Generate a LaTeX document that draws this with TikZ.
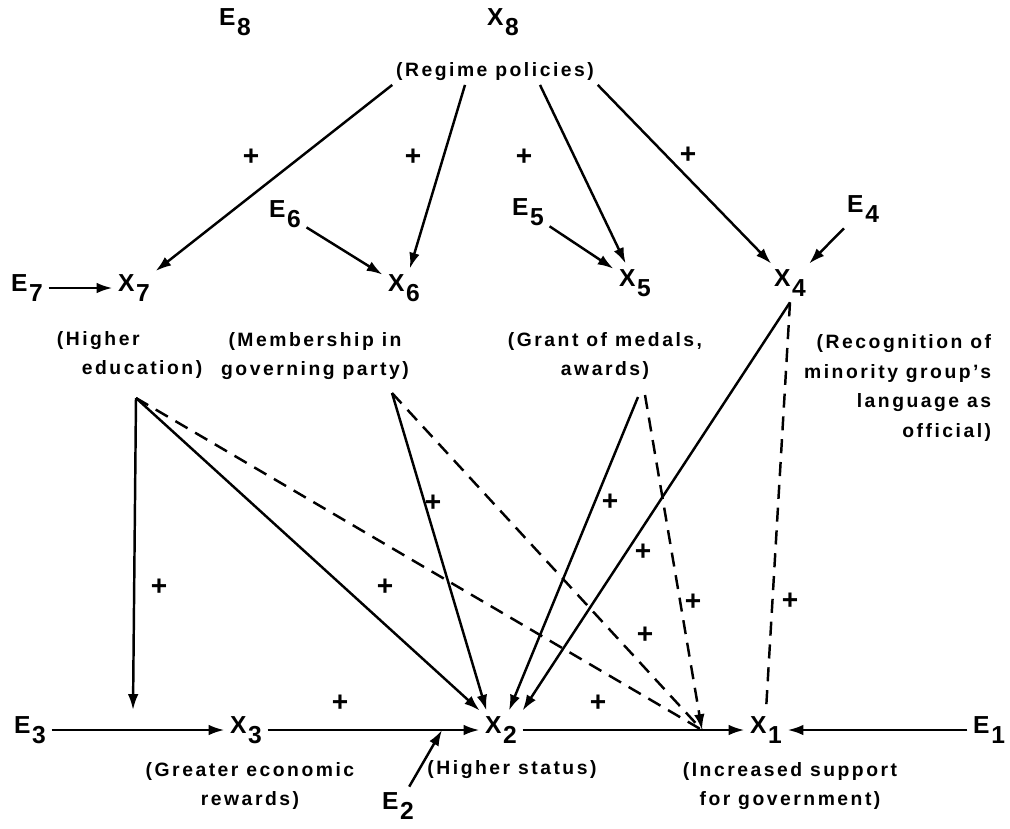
\documentclass[tikz,border=0pt]{standalone}
\usepackage{fontspec}
\setmainfont{Liberation Sans}[LetterSpace=13]
\usetikzlibrary{arrows.meta}
\tikzstyle{varnode}=[inner sep=3pt, font=\fontsize{14}{16}\selectfont\bfseries]
\tikzstyle{desc}=[inner sep=2pt, font=\fontsize{11}{17}\selectfont\bfseries]
\tikzstyle{plussign}=[inner sep=0pt, font=\fontsize{16}{16}\selectfont\bfseries]
\tikzstyle{link}=[-{Latex[length=9pt,width=6pt]}, line width=1.4pt]
\tikzstyle{dashlink}=[line width=1.4pt, dash pattern=on 8pt off 5pt]
\newcommand{\variable}[4]{
	\node[varnode] (#1) at (#2) {#3\kern1pt\raisebox{-6pt}{#4}};}
\newcommand{\plussign}[2]{
	\node[plussign] (#1) at (#2) {+};}

\begin{document}
\begin{tikzpicture}
	\useasboundingbox (0,0) rectangle (20.2,-16.56);

	% top: regime policies
	\variable{e8}{4.70,-0.44}{E}{8}
	\variable{x8}{10.06,-0.44}{X}{8}
	\node[desc] (regime) at (9.90,-1.44) {(Regime policies)};

	% middle row
	\variable{e6}{5.70,-4.28}{E}{6}
	\variable{e5}{10.56,-4.24}{E}{5}
	\variable{e4}{17.26,-4.18}{E}{4}
	\variable{e7}{0.54,-5.76}{E}{7}
	\variable{x7}{2.68,-5.76}{X}{7}
	\variable{x6}{8.08,-5.76}{X}{6}
	\variable{x5}{12.70,-5.66}{X}{5}
	\variable{x4}{15.80,-5.66}{X}{4}

	\node[desc, align=left, anchor=west] (hedu) at (1.06,-7.10) {(Higher\\\hspace*{0.5cm}education)};
	\node[desc, align=center] (memb) at (6.30,-7.12) {(Membership in\\governing party)};
	\node[desc, align=center] (grant) at (12.10,-7.12) {(Grant of medals,\\awards)};
	\node[desc, align=right, anchor=east] (recog) at (19.90,-7.76) {(Recognition of\\minority group's\\language as\\official)};

	% bottom row
	\variable{e3}{0.60,-14.60}{E}{3}
	\variable{x3}{4.92,-14.60}{X}{3}
	\variable{x2}{10.02,-14.60}{X}{2}
	\variable{x1}{15.32,-14.60}{X}{1}
	\variable{e1}{19.78,-14.60}{E}{1}
	\variable{e2}{7.96,-16.12}{E}{2}

	\node[desc, align=center] (rewards) at (5.00,-15.72) {(Greater economic\\rewards)};
	\node[desc] (status) at (10.24,-15.40) {(Higher status)};
	\node[desc, align=center] (support) at (15.80,-15.72) {(Increased support\\for government)};

	% points where lines leave or meet
	\coordinate (edu-out) at (2.72,-7.96);
	\coordinate (edu-in) at (2.66,-14.20);
	\coordinate (memb-out) at (7.84,-7.86);
	\coordinate (grant-out) at (12.76,-7.94);
	\coordinate (grant-dash) at (12.90,-7.90);
	\coordinate (meet) at (14.04,-14.60);
	\coordinate (e2-in) at (8.84,-14.60);

	% plus signs
	\plussign{p1}{5.02,-3.14}
	\plussign{p2}{8.26,-3.14}
	\plussign{p3}{10.48,-3.14}
	\plussign{p4}{13.76,-3.10}
	\plussign{p5}{3.18,-11.74}
	\plussign{p6}{7.70,-11.74}
	\plussign{p7}{8.66,-10.06}
	\plussign{p8}{12.20,-10.04}
	\plussign{p9}{12.86,-11.04}
	\plussign{p10}{12.90,-12.70}
	\plussign{p11}{13.86,-12.04}
	\plussign{p12}{15.80,-12.02}
	\plussign{p13}{6.80,-14.06}
	\plussign{p14}{11.96,-14.06}

	\path[link] (regime.south west) edge (x7);
	\path[link] ([xshift=-0.6cm]regime.south) edge (x6);
	\path[link] ([xshift=0.9cm]regime.south) edge (x5);
	\path[link] (regime.south east) edge (x4);
	\path[link] (e7) edge (x7);
	\path[link] (e6) edge (x6);
	\path[link] (e5) edge (x5);
	\path[link] (e4) edge (x4);

	\path[link] (edu-out) edge (edu-in);
	\path[link] (edu-out) edge (x2);
	\path[link] (memb-out) edge ([xshift=4pt]x2.north west);
	\path[link] (grant-out) edge (x2);
	\path[link] (x4.south) edge (x2.north east);

	\path[dashlink] (edu-out) edge (meet);
	\path[dashlink] (memb-out) edge (meet);
	\path[dashlink, -{Latex[length=9pt,width=6pt]}] (grant-dash) edge (meet);
	\path[dashlink] (x4.south) edge (x1.north);

	\path[link] (e3) edge (x3);
	\path[link] (x3) edge (x2);
	\path[link] (x2) edge (x1);
	\path[link] (e1) edge (x1);
	\path[link] (e2) edge (e2-in);
\end{tikzpicture}
\end{document}
